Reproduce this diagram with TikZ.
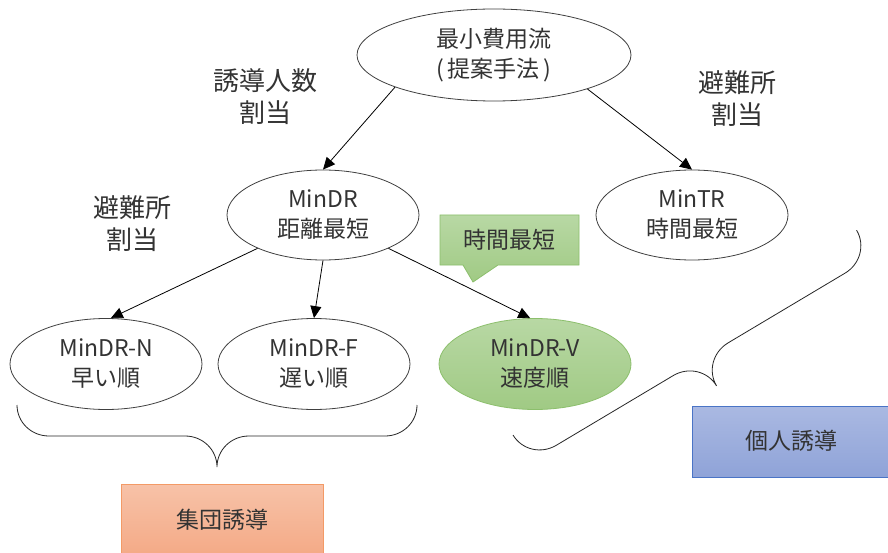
\documentclass[tikz,border=0pt]{standalone}
\usepackage{fontspec}
\setmainfont{Noto Sans CJK JP}
\usetikzlibrary{arrows.meta,shapes.geometric}

\definecolor{txt}{HTML}{333333}
\definecolor{ovalline}{HTML}{404040}
\definecolor{greentop}{HTML}{B8D8A4}
\definecolor{greenbot}{HTML}{A0CA84}
\definecolor{greenline}{HTML}{8CBF6C}
\definecolor{orangetop}{HTML}{F7C2A8}
\definecolor{orangebot}{HTML}{F4A985}
\definecolor{orangeline}{HTML}{F39A66}
\definecolor{bluetop}{HTML}{AAB9E2}
\definecolor{bluebot}{HTML}{8FA3D8}
\definecolor{blueline}{HTML}{4A74C6}

\tikzset{
  oval/.style={ellipse, draw=ovalline, line width=0.8pt, inner sep=0pt,
    minimum width=192pt, minimum height=90pt, align=center, text=txt,
    font=\fontsize{23}{30}\selectfont},
  lbl/.style={align=center, text=txt, font=\fontsize{26}{32}\selectfont},
  boxtext/.style={text=txt, font=\fontsize{23}{28}\selectfont},
  arr/.style={-{Triangle[length=12pt,width=11pt]}, line width=0.8pt},
  bracepath/.style={line width=0.8pt, draw=black!85},
}

\begin{document}
\begin{tikzpicture}[x=1pt,y=-1pt]
\clip (0,0) rectangle (888,553);
\fill[white] (0,0) rectangle (888,553);

% ellipses of the tree
\node[oval, minimum width=274pt, minimum height=92pt] (top) at (494,55)
  {最小費用流\\(\kern4pt 提案手法\kern4pt)};
\node[oval] (mindr) at (323,215) {MinDR\\距離最短};
\node[oval] (mintr) at (692,215) {MinTR\\時間最短};
\node[oval, minimum height=91pt] (dn) at (106,364) {MinDR-N\\早い順};
\node[oval, minimum height=91pt] (df) at (314,364) {MinDR-F\\遅い順};
\node[oval, minimum height=91pt, draw=greenline, top color=greentop,
  bottom color=greenbot] (dv) at (535,364) {MinDR-V\\速度順};

% side labels
\node[lbl] (lblcount) at (265,97) {誘導人数\\割当};
\node[lbl] (lblshelterR) at (737,99) {避難所\\割当};
\node[lbl] (lblshelterL) at (132,224) {避難所\\割当};

% connectors
\draw[arr] (top.198) -- (mindr.north);
\draw[arr] (top.-20) -- (mintr.north);
\draw[arr] (mindr.207) -- (dn.84);
\draw[arr] (mindr.south) -- (df.north);
\draw[arr] (mindr.-27) -- (dv.96);

% callout with pointer
\path[draw=greenline, line width=0.8pt, top color=greentop, bottom color=greenbot]
  (440,215) -- (579,215) -- (579,265) -- (498,265) -- (473,282)
  -- (463,265) -- (440,265) -- cycle;
\node[boxtext] (callout) at (509.5,240) {時間最短};

% braces
\begin{scope}[shift={(17,405)}]
  \draw[bracepath] (0,0) .. controls (0,17) and (14,31) .. (32,31)
    -- (168,31) .. controls (186,31) and (200,45) .. (200,62)
    .. controls (200,45) and (214,31) .. (232,31)
    -- (368,31) .. controls (386,31) and (400,17) .. (400,0);
\end{scope}
\begin{scope}[shift={(513,435)}, rotate=30.8]
  \draw[bracepath] (0,0) .. controls (0,17) and (14,31) .. (32,31)
    -- (168,31) .. controls (186,31) and (200,45) .. (200,62)
    .. controls (200,45) and (214,31) .. (232,31)
    -- (368,31) .. controls (386,31) and (400,17) .. (400,0);
\end{scope}

% group boxes
\path[draw=orangeline, line width=0.8pt, top color=orangetop, bottom color=orangebot]
  (121,484) rectangle (323,558);
\node[boxtext] (group) at (222,520) {集団誘導};
\path[draw=blueline, line width=0.8pt, top color=bluetop, bottom color=bluebot]
  (692,406) rectangle (892,477);
\node[boxtext] (indiv) at (791,441) {個人誘導};
\end{tikzpicture}
\end{document}
